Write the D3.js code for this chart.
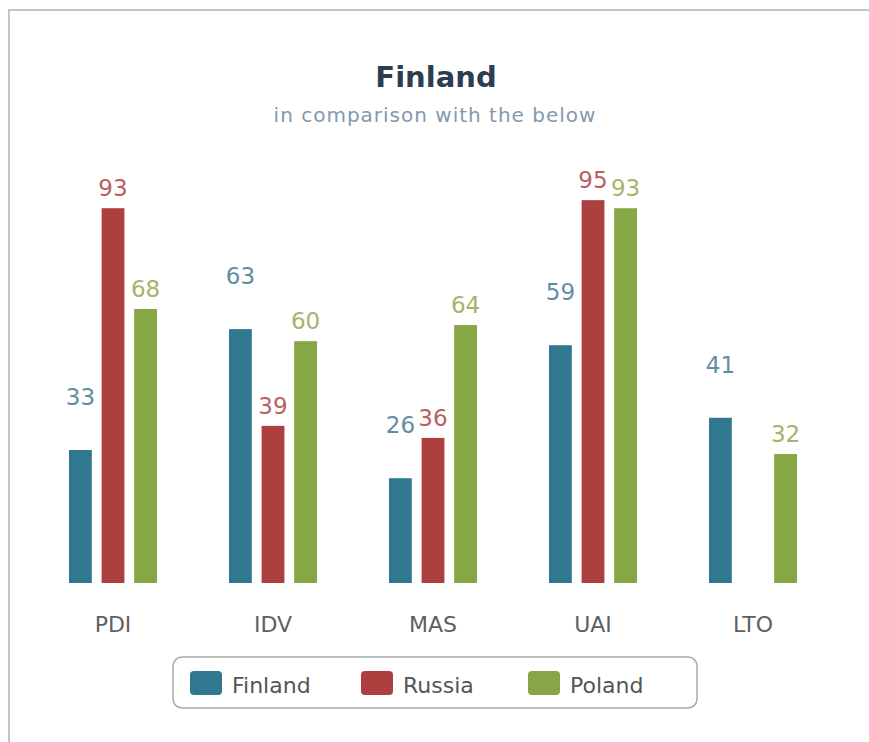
<!DOCTYPE html>
<html>
<head>
<meta charset="utf-8">
<script src="https://cdn.jsdelivr.net/npm/d3@7"></script>
<style>
  body { margin: 0; background: #fff; }
  svg { display: block; font-family: "DejaVu Sans", sans-serif; }
</style>
</head>
<body>
<div id="chart"></div>
<script>
// Data
const categories = ['PDI', 'IDV', 'MAS', 'UAI', 'LTO']
const seriesNames = ['Finland', 'Russia', 'Poland']
const finland = [33, 63, 26, 59, 41]
const russia = [93, 39, 36, 95, null]
const poland = [68, 60, 64, 93, 32]

const colors = ['#2f7890', '#ad3f3e', '#87a646']
const labelColors = ['#5f8ea3', '#b8605f', '#a6b46a']
const labelGap = [45, 12, 12]

const width = 869
const height = 742

const svg = d3.select('#chart')
  .append('svg')
  .attr('width', width)
  .attr('height', height)

// frame
svg.append('path')
  .attr('d', `M9,${height} V10 H${width}`)
  .attr('fill', 'none')
  .attr('stroke', '#b9c9d3')
  .attr('stroke-width', 2)

// titles
svg.append('text')
  .attr('x', 436).attr('y', 87)
  .attr('text-anchor', 'middle')
  .attr('font-size', 29).attr('font-weight', 'bold')
  .attr('fill', '#2c3e50')
  .text('Finland')

svg.append('text')
  .attr('x', 435).attr('y', 122)
  .attr('text-anchor', 'middle')
  .attr('font-size', 20)
  .attr('letter-spacing', 1)
  .attr('fill', '#8499ab')
  .text('in comparison with the below')

//scales
const x = d3.scaleBand()
  .domain(categories)
  .range([33, 833])

const x1 = d3.scaleBand()
  .domain(seriesNames)
  .range([0, 88])
  .paddingInner(0.3)

const y = d3.scaleLinear()
  .domain([0, 100])
  .range([583, 180])

const rows = [finland, russia, poland]

const groups = svg.append('g')
  .selectAll('g')
  .data(categories)
  .join('g')
  .attr('transform', d => `translate(${x(d) + (x.bandwidth() - 88) / 2},0)`)

const cells = groups.selectAll('g')
  .data((c, i) => seriesNames.map((s, k) => ({ s, k, v: rows[k][i] })).filter(d => d.v != null))
  .join('g')

cells.append('rect')
  .attr('x', d => x1(d.s))
  .attr('width', x1.bandwidth())
  .attr('y', d => y(d.v))
  .attr('height', d => y(0) - y(d.v))
  .attr('fill', d => colors[d.k])

cells.append('text')
  .attr('x', d => x1(d.s) + x1.bandwidth() / 2)
  .attr('y', d => y(d.v) - labelGap[d.k])
  .attr('text-anchor', 'middle')
  .attr('font-size', 23)
  .attr('fill', d => labelColors[d.k])
  .text(d => d.v)

// category axis
const xAxis = svg.append('g')
  .attr('transform', `translate(0,${y(0)})`)
  .call(d3.axisBottom(x).tickSize(0).tickPadding(49))
xAxis.select('.domain').remove()
xAxis.selectAll('text')
  .attr('font-size', 22)
  .attr('font-family', '"DejaVu Sans", sans-serif')
  .attr('fill', '#5f5f5f')
  .attr('dy', 0)

// legend
const legend = svg.append('g')
legend.append('rect')
  .attr('x', 173).attr('y', 657)
  .attr('width', 524).attr('height', 51)
  .attr('rx', 9)
  .attr('fill', '#fff')
  .attr('stroke', '#a9a9a9')
  .attr('stroke-width', 1.5)

const legendX = [190, 361, 528]
const items = legend.selectAll('.item')
  .data(seriesNames)
  .join('g')
  .attr('class', 'item')
  .attr('transform', (d, i) => `translate(${legendX[i]},671)`)

items.append('rect')
  .attr('width', 32).attr('height', 24)
  .attr('rx', 4)
  .attr('fill', (d, i) => colors[i])

items.append('text')
  .attr('x', 42).attr('y', 22)
  .attr('font-size', 22)
  .attr('fill', '#555')
  .text(d => d)
</script>
</body>
</html>
